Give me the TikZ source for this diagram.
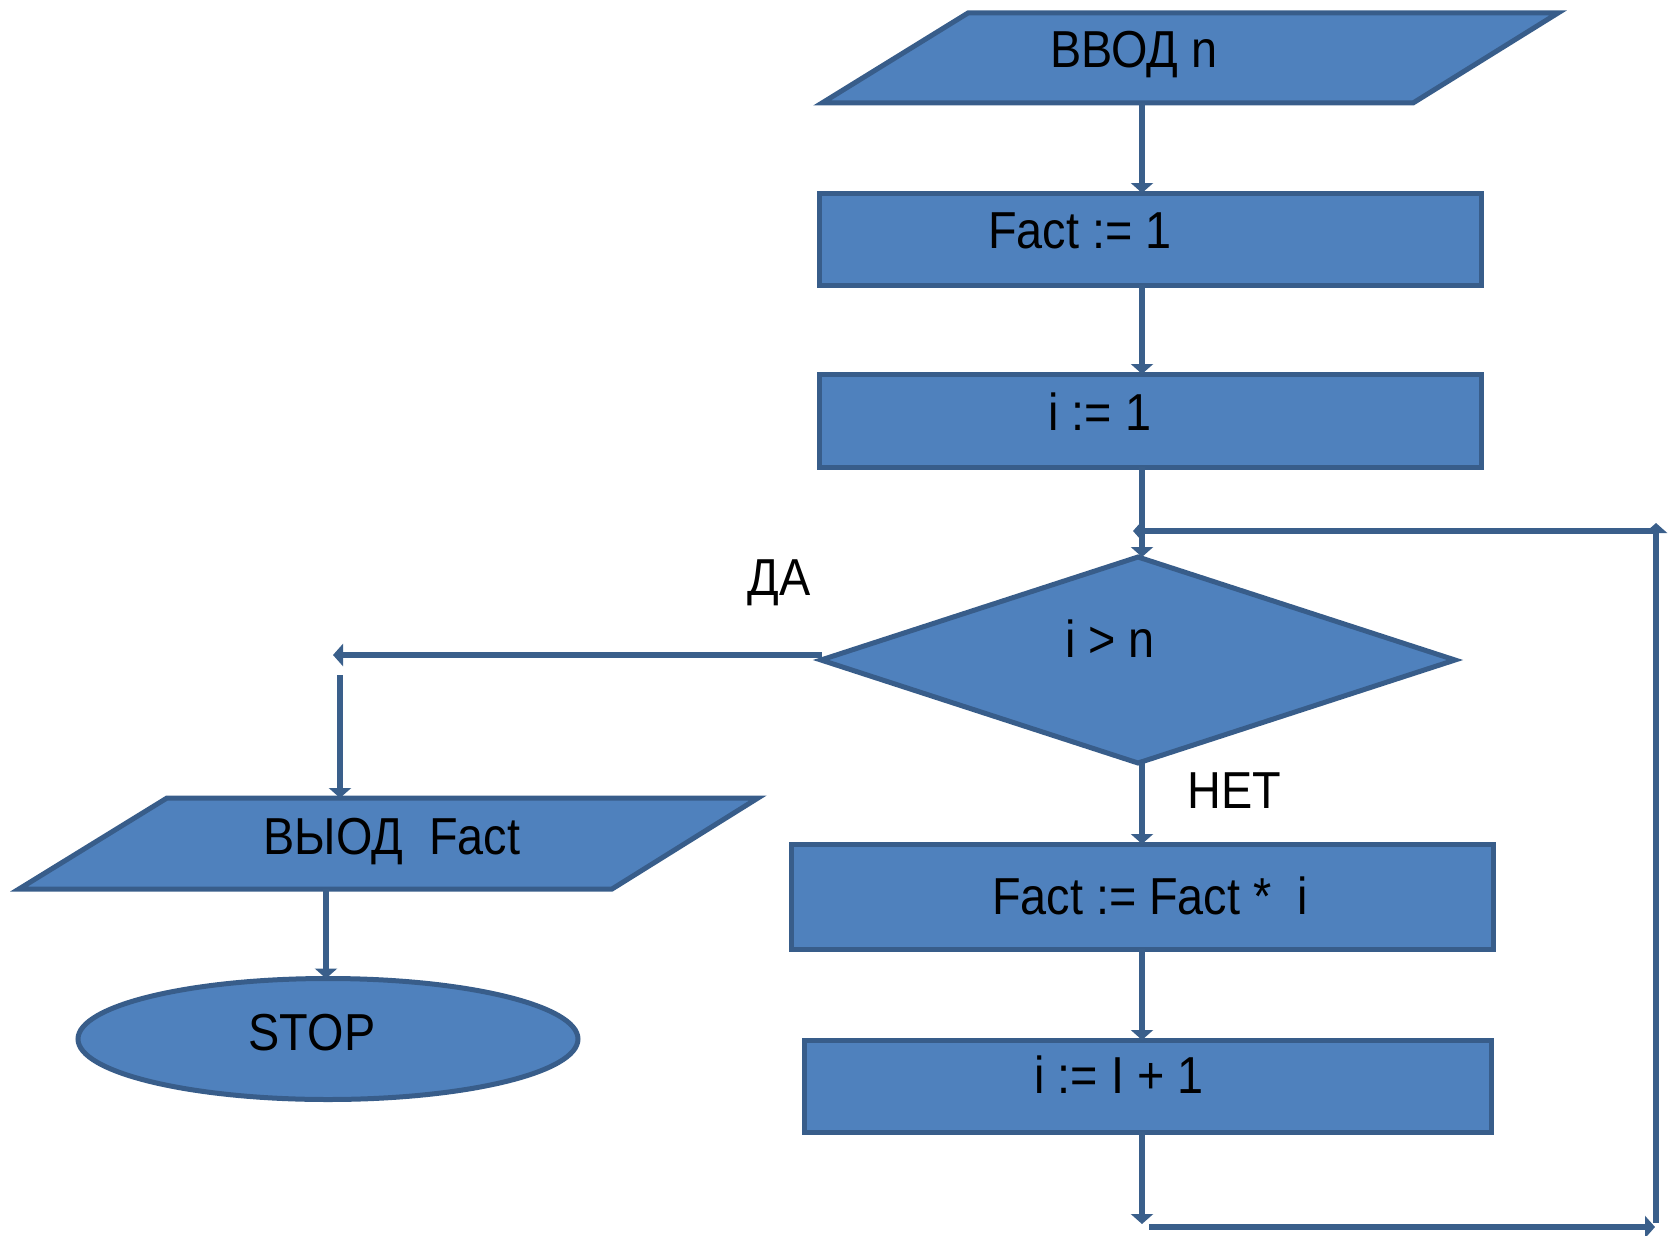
\documentclass[tikz,border=0pt]{standalone}
\usepackage{fontspec}
\setmainfont{Liberation Sans}[FakeStretch=0.9]
\usetikzlibrary{shapes.geometric,arrows.meta}
\definecolor{shapeFill}{HTML}{4F81BD}
\definecolor{shapeEdge}{HTML}{385D8A}
\definecolor{lineCol}{HTML}{3A5F8B}
\begin{document}
\begin{tikzpicture}[x=1pt,y=-1pt,
  block/.style={draw=shapeEdge,fill=shapeFill,line width=5pt,inner sep=0pt,outer sep=0pt},
  procbox/.style={block,rectangle},
  decision/.style={block,diamond},
  terminal/.style={block,ellipse},
  txt/.style={anchor=base,inner sep=0pt,font=\fontsize{52}{60}\selectfont},
  conn/.style={draw=lineCol,line width=5.5pt,-{Triangle[width=22pt,length=10pt]}}]
\useasboundingbox (0,0) rectangle (1668,1236);

% input / output parallelograms
\path[block] (968,13) -- (1558,13) -- (1413,103) -- (822,103) -- cycle;
\path[block] (167,798) -- (758,798) -- (612,889) -- (19,889) -- cycle;

% process boxes, decision and terminator
\node[procbox,minimum width=662pt,minimum height=92pt] (f1) at (1150,239) {};
\node[procbox,minimum width=662pt,minimum height=93pt] (i1) at (1150,420.5) {};
\node[decision,minimum width=634pt,minimum height=206pt] (cond) at (1138,660) {};
\node[procbox,minimum width=702pt,minimum height=105pt] (mul) at (1142,896.5) {};
\node[procbox,minimum width=687pt,minimum height=92pt] (inc) at (1147.5,1086) {};
\node[terminal,minimum width=500pt,minimum height=121pt] (stop) at (328,1039) {};

% labels
\node[txt] (tIn) at (1134,68) {ВВОД n};
\node[txt] (tF1) at (1080,248) {Fact := 1};
\node[txt] (tI1) at (1100,430) {i := 1};
\node[txt] (tCond) at (1110,657) {i > n};
\node[txt] (tYes) at (779,595) {ДА};
\node[txt] (tNo) at (1234,808) {НЕТ};
\node[txt] (tOut) at (392,854) {ВЫОД\ \ Fact};
\node[txt] (tStop) at (312,1050) {STOP};
\node[txt] (tMul) at (1150,914) {Fact := Fact *\ \ i};
\node[txt] (tInc) at (1119,1093) {i := I + 1};

% connector end points
\coordinate (ax) at (1142,0);
\coordinate (inB) at (1142,103);
\coordinate (yesEnd) at (333,655);
\coordinate (yesTop) at (340,675);
\coordinate (outT) at (340,798);
\coordinate (outB) at (326,889);
\coordinate (loopA) at (1142,1224);
\coordinate (loopB) at (1149,1227);
\coordinate (loopC) at (1655,1227);
\coordinate (loopD) at (1656,1223);
\coordinate (loopE) at (1656,523);
\coordinate (loopF) at (1653,531);
\coordinate (loopG) at (1133,531);

% main flow
\draw[conn] (inB) -- (f1.north -| ax);
\draw[conn] (f1.south -| ax) -- (i1.north -| ax);
\draw[conn] (i1.south -| ax) -- (cond.north -| ax);
\draw[conn] (cond.south -| ax) -- (mul.north -| ax);
\draw[conn] (mul.south -| ax) -- (inc.north -| ax);
\draw[conn] (inc.south -| ax) -- (loopA);

% loop back to the condition
\draw[conn] (loopB) -- (loopC);
\draw[conn] (loopD) -- (loopE);
\draw[conn] (loopF) -- (loopG);

% exit branch
\draw[conn] (cond.west -| 822,0) ++(0,-5) -- (yesEnd);
\draw[conn] (yesTop) -- (outT);
\draw[conn] (outB) -- (outB |- stop.north);
\end{tikzpicture}
\end{document}
